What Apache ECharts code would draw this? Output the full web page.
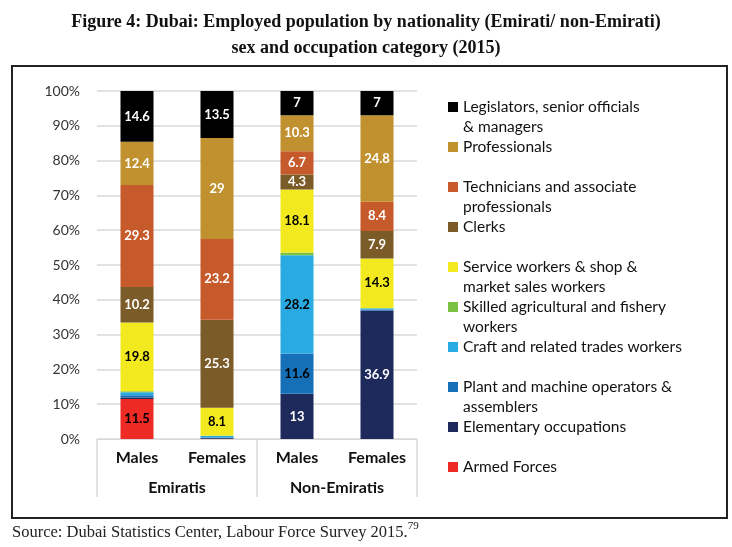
<!DOCTYPE html>
<html>
<head>
<meta charset="utf-8">
<script src="https://cdn.jsdelivr.net/npm/echarts@6/dist/echarts.min.js"></script>
<style>html,body{margin:0;padding:0;background:#fff}#c{width:732px;height:547px}</style>
</head>
<body>
<div id="c"></div>
<script>
const categories = ['Males', 'Females', 'Males', 'Females'];
const groups = ['Emiratis', 'Non-Emiratis'];
const yTicks = ['0%','10%','20%','30%','40%','50%','60%','70%','80%','90%','100%'];

const armedForces   = [11.5, 0.1, 0, 0];
const elementary    = [0.4, 0.2, 13, 36.9];
const plantOps      = [0.7, 0.1, 11.6, 0.3];
const craft         = [0.8, 0.5, 28.2, 0.4];
const agricultural  = [0.3, 0, 0.8, 0];
const serviceWorkers= [19.8, 8.1, 18.1, 14.3];
const clerks        = [10.2, 25.3, 4.3, 7.9];
const technicians   = [29.3, 23.2, 6.7, 8.4];
const professionals = [12.4, 29, 10.3, 24.8];
const legislators   = [14.6, 13.5, 7, 7];

const seriesDefs = [
  {name: 'Armed Forces', data: armedForces, color: '#EE2A24', label: '#000'},
  {name: 'Elementary occupations', data: elementary, color: '#1F2A5C', label: '#fff'},
  {name: 'Plant and machine operators & assemblers', data: plantOps, color: '#1570B8', label: '#000'},
  {name: 'Craft and related trades workers', data: craft, color: '#29ABE2', label: '#000'},
  {name: 'Skilled agricultural and fishery workers', data: agricultural, color: '#7DC142', label: '#000'},
  {name: 'Service workers & shop & market sales workers', data: serviceWorkers, color: '#F2EA1F', label: '#000'},
  {name: 'Clerks', data: clerks, color: '#7B5B28', label: '#fff'},
  {name: 'Technicians and associate professionals', data: technicians, color: '#C65A2B', label: '#fff'},
  {name: 'Professionals', data: professionals, color: '#C0912E', label: '#fff'},
  {name: 'Legislators, senior officials & managers', data: legislators, color: '#000000', label: '#fff'}
];

const legendItems = [
  {name: 'Legislators, senior officials & managers', text: 'Legislators, senior officials\n& managers', y: 107},
  {name: 'Professionals', text: 'Professionals', y: 147},
  {name: 'Technicians and associate professionals', text: 'Technicians and associate\nprofessionals', y: 187},
  {name: 'Clerks', text: 'Clerks', y: 227},
  {name: 'Service workers & shop & market sales workers', text: 'Service workers & shop &\nmarket sales workers', y: 267},
  {name: 'Skilled agricultural and fishery workers', text: 'Skilled agricultural and fishery\nworkers', y: 307},
  {name: 'Craft and related trades workers', text: 'Craft and related trades workers', y: 347},
  {name: 'Plant and machine operators & assemblers', text: 'Plant and machine operators &\nassemblers', y: 387},
  {name: 'Elementary occupations', text: 'Elementary occupations', y: 427},
  {name: 'Armed Forces', text: 'Armed Forces', y: 467}
];

const FONT = 'Lato';
const LH = 20;

const legends = legendItems.map(it => {
  const two = it.text.indexOf('\n') >= 0;
  return {
    orient: 'vertical',
    left: 448,
    top: two ? it.y - 30 : it.y - 10,
    padding: 0,
    itemWidth: 10,
    itemHeight: 10,
    icon: 'rect',
    selectedMode: false,
    formatter: () => (two ? ' \n' + it.text : it.text),
    textStyle: {fontFamily: FONT, fontSize: 15.5, color: '#111', lineHeight: LH},
    data: [{name: it.name}]
  };
});

const chart = echarts.init(document.getElementById('c'));
chart.setOption({
  animation: false,
  backgroundColor: '#fff',
  color: seriesDefs.map(s => s.color),
  title: {
    text: 'Figure 4: Dubai: Employed population by nationality (Emirati/ non-Emirati)\nsex and occupation category (2015)',
    left: 'center',
    top: 4,
    textStyle: {fontFamily: 'Liberation Serif', fontWeight: 'bold', fontSize: 18, lineHeight: 26, color: '#111', align: 'center'}
  },
  legend: legends,
  grid: {left: 97, right: 315, top: 91, bottom: 108, containLabel: false},
  xAxis: [
    {
      type: 'category', data: categories, position: 'bottom',
      axisLine: {show: true, lineStyle: {color: '#d9d9d9'}},
      axisTick: {show: false},
      axisLabel: {fontFamily: FONT, fontWeight: 'bold', fontSize: 16, color: '#111', margin: 11}
    },
    {
      type: 'category', data: groups, position: 'bottom',
      axisLine: {show: false},
      axisTick: {show: true, length: 58, inside: false, alignWithLabel: false, lineStyle: {color: '#d9d9d9', width: 1.5}},
      axisLabel: {fontFamily: FONT, fontWeight: 'bold', fontSize: 16, color: '#111', margin: 41}
    }
  ],
  yAxis: {
    type: 'value', min: 0, max: 100, interval: 10,
    axisLine: {show: false}, axisTick: {show: false},
    splitLine: {lineStyle: {color: '#d9d9d9', width: 1.5}},
    axisLabel: {fontFamily: FONT, fontSize: 14, color: '#333', margin: 17,
      formatter: v => yTicks[Math.round(v / 10)]}
  },
  series: seriesDefs.map(s => ({
    name: s.name, type: 'bar', stack: 'total', xAxisIndex: 0,
    barWidth: 33, data: s.data,
    itemStyle: {color: s.color},
    label: {
      show: true, position: 'inside',
      fontFamily: FONT, fontWeight: 'bold', fontSize: 13, color: s.label,
      formatter: p => (p.value >= 4 ? String(p.value) : '')
    }
  })),
  graphic: [
    {type: 'rect', shape: {x: 12, y: 66, width: 715, height: 452},
     style: {fill: 'none', stroke: '#222', lineWidth: 2}, z: -1},
    {type: 'text', left: 12, top: 521,
     style: {
       text: '{a|Source: Dubai Statistics Center, Labour Force Survey 2015.}{s|79}',
       rich: {
         a: {fontFamily: 'Liberation Serif', fontSize: 16.5, fill: '#222', verticalAlign: 'bottom'},
         s: {fontFamily: 'Liberation Serif', fontSize: 11, fill: '#222', verticalAlign: 'top', padding: [0, 0, 9, 0]}
       }
     }}
  ]
});
</script>
</body>
</html>
